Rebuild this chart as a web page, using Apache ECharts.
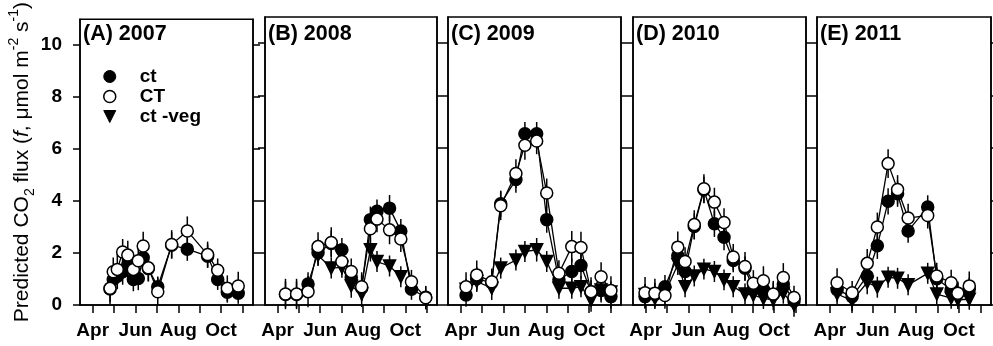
<!DOCTYPE html>
<html>
<head>
<meta charset="utf-8">
<script src="https://cdn.jsdelivr.net/npm/echarts@6/dist/echarts.min.js"></script>
<style>
  html, body { margin: 0; padding: 0; background: #fff; }
  #chart { width: 993px; height: 346px; }
</style>
</head>
<body>
<div id="chart"></div>
<script>
// Month axis: values are decimal months (4 = 1 April, 4.5 = mid April ...)
const tickMonths = [4, 5, 6, 7, 8, 9, 10, 11];
const labelMonths = [4, 6, 8, 10];
const monthNames = { 4: 'Apr', 6: 'Jun', 8: 'Aug', 10: 'Oct' };
const yTicks = [0, 2, 4, 6, 8, 10];

const panelTitles = ['(A) 2007', '(B) 2008', '(C) 2009', '(D) 2010', '(E) 2011'];
const seriesNames = ['ct', 'CT', 'ct -veg'];

// 2007
const dates2007 = [4.81, 4.96, 5.15, 5.40, 5.64, 5.90, 6.13, 6.36, 6.60, 7.04, 7.69, 8.42, 9.37, 9.84, 10.29, 10.80];
const ct2007    = [0.62, 0.98, 1.11, 1.28, 1.55, 0.98, 1.02, 1.83, 1.40, 0.70, 2.30, 2.15, 1.88, 0.98, 0.49, 0.45];
const ct2007Err = [0.50, 0.45, 0.50, 0.50, 0.50, 0.45, 0.45, 0.50, 0.50, 0.40, 0.50, 0.45, 0.45, 0.40, 0.40, 0.40];
const CT2007    = [0.64, 1.28, 1.37, 2.04, 1.92, 1.37, 1.70, 2.27, 1.43, 0.51, 2.33, 2.85, 1.94, 1.34, 0.64, 0.73];
const CT2007Err = [0.62, 0.55, 0.55, 0.50, 0.55, 0.45, 0.50, 0.55, 0.50, 0.55, 0.55, 0.56, 0.50, 0.45, 0.50, 0.55];

// 2008
const dates2008 = [4.37, 4.89, 5.43, 5.90, 6.52, 7.02, 7.46, 7.95, 8.36, 8.67, 9.26, 9.79, 10.29, 10.96];
const ct2008    = [0.40, 0.40, 0.80, 2.00, 2.35, 2.11, 1.05, 0.65, 3.26, 3.58, 3.70, 2.83, 0.60, 0.30];
const ct2008Err = [0.50, 0.50, 0.45, 0.50, 0.50, 0.45, 0.45, 0.50, 0.50, 0.45, 0.50, 0.45, 0.40, 0.40];
const CT2008    = [0.42, 0.42, 0.51, 2.23, 2.39, 1.66, 1.28, 0.70, 2.91, 3.28, 2.87, 2.52, 0.89, 0.28];
const CT2008Err = [0.58, 0.58, 0.60, 0.55, 0.58, 0.50, 0.50, 0.55, 0.55, 0.50, 0.55, 0.50, 0.45, 0.45];
const veg2008    = [null, null, null, 1.90, 1.41, 1.44, 0.73, 0.42, 2.11, 1.66, 1.49, 1.08, null, null];
const veg2008Err = [null, null, null, 0.40, 0.40, 0.40, 0.45, 0.50, 0.45, 0.40, 0.40, 0.40, null, null];

// 2009
const dates2009 = [4.25, 4.75, 5.45, 5.87, 6.58, 7.00, 7.55, 8.02, 8.59, 9.19, 9.62, 10.09, 10.56, 11.02];
const ct2009    = [0.38, 1.00, 0.85, 3.87, 4.79, 6.54, 6.54, 3.26, 0.96, 1.28, 1.51, 0.50, 0.55, 0.32];
const ct2009Err = [0.45, 0.45, 0.45, 0.50, 0.50, 0.45, 0.45, 0.50, 0.45, 0.50, 0.50, 0.45, 0.45, 0.45];
const CT2009    = [0.70, 1.15, 0.89, 3.79, 5.02, 6.10, 6.26, 4.28, 1.21, 2.23, 2.20, 0.51, 1.08, 0.55];
const CT2009Err = [0.55, 0.55, 0.50, 0.55, 0.55, 0.55, 0.50, 0.55, 0.50, 0.60, 0.60, 0.55, 0.55, 0.55];
const veg2009    = [0.60, 0.90, 0.64, 1.41, 1.72, 2.04, 2.11, 1.66, 0.64, 0.64, 0.70, 0.19, 0.57, 0.50];
const veg2009Err = [0.40, 0.40, 0.45, 0.40, 0.40, 0.40, 0.45, 0.40, 0.40, 0.40, 0.40, 0.45, 0.40, 0.40];

// 2010
const dates2010 = [3.97, 4.43, 4.90, 5.50, 5.84, 6.27, 6.72, 7.21, 7.66, 8.09, 8.64, 9.03, 9.50, 9.96, 10.43, 10.93];
const ct2010    = [0.32, 0.40, 0.70, 1.88, 1.28, 3.00, 4.40, 3.10, 2.59, 1.70, 1.40, 0.60, 0.60, 0.40, 0.80, 0.15];
const ct2010Err = [0.45, 0.45, 0.45, 0.50, 0.45, 0.50, 0.50, 0.50, 0.50, 0.45, 0.45, 0.45, 0.45, 0.45, 0.45, 0.40];
const CT2010    = [0.47, 0.45, 0.36, 2.21, 1.66, 3.07, 4.44, 3.93, 3.15, 1.83, 1.47, 0.83, 0.93, 0.42, 1.05, 0.29];
const CT2010Err = [0.60, 0.55, 0.50, 0.60, 0.55, 0.55, 0.55, 0.55, 0.55, 0.50, 0.55, 0.50, 0.55, 0.50, 0.55, 0.45];
const veg2010    = [0.40, 0.25, 0.45, 1.55, 0.70, 1.11, 1.37, 1.28, 0.96, 0.70, 0.42, 0.38, 0.25, 0.20, 0.45, 0.00];
const veg2010Err = [0.40, 0.40, 0.40, 0.40, 0.40, 0.40, 0.40, 0.40, 0.40, 0.40, 0.40, 0.40, 0.40, 0.40, 0.40, 0.45];

// 2011
const dates2011 = [4.34, 5.04, 5.74, 6.21, 6.71, 7.15, 7.64, 8.55, 8.97, 9.64, 9.95, 10.48];
const ct2011    = [0.58, 0.32, 1.11, 2.26, 3.96, 4.25, 2.83, 3.74, 1.00, 0.58, 0.45, 0.60];
const ct2011Err = [0.45, 0.40, 0.45, 0.50, 0.50, 0.50, 0.45, 0.45, 0.45, 0.45, 0.40, 0.45];
const CT2011    = [0.85, 0.47, 1.59, 2.98, 5.40, 4.41, 3.32, 3.42, 1.11, 0.85, 0.45, 0.73];
const CT2011Err = [0.55, 0.45, 0.55, 0.55, 0.55, 0.55, 0.55, 0.50, 0.50, 0.50, 0.45, 0.55];
const veg2011    = [0.42, 0.17, 0.86, 0.68, 1.06, 1.02, 0.77, 1.21, 0.42, 0.26, 0.20, 0.22];
const veg2011Err = [0.40, 0.40, 0.45, 0.40, 0.40, 0.40, 0.40, 0.40, 0.40, 0.40, 0.35, 0.40];

const panelDates = [dates2007, dates2008, dates2009, dates2010, dates2011];
const panelCt  = [[ct2007, ct2007Err], [ct2008, ct2008Err], [ct2009, ct2009Err], [ct2010, ct2010Err], [ct2011, ct2011Err]];
const panelCT  = [[CT2007, CT2007Err], [CT2008, CT2008Err], [CT2009, CT2009Err], [CT2010, CT2010Err], [CT2011, CT2011Err]];
const panelVeg = [null, [veg2008, veg2008Err], [veg2009, veg2009Err], [veg2010, veg2010Err], [veg2011, veg2011Err]];

// Layout of the five panels
const gridLeft  = [80, 265, 448, 633, 817];
const gridWidth = [173, 172, 173, 173, 174];
const gridTop = 17, gridHeight = 288;
const xMin = 3.407, xMax = 11.49;
const FONT = "'Liberation Sans', Arial, sans-serif";

const styles = {
  'ct':      { symbol: 'circle',   size: 12, rotate: 0,   fill: '#000', z: 4 },
  'CT':      { symbol: 'circle',   size: 12, rotate: 0,   fill: '#fff', z: 5 },
  'ct -veg': { symbol: 'triangle', size: 12, rotate: 180, fill: '#000', z: 3 }
};

function points(dates, vals) {
  const out = [];
  dates.forEach((d, i) => { if (vals[i] != null) out.push([d, vals[i]]); });
  return out;
}
function bars(dates, vals, errs) {
  const out = [];
  dates.forEach((d, i) => { if (vals[i] != null) out.push([d, vals[i], errs[i]]); });
  return out;
}

function renderErrorBar(params, api) {
  const x = api.value(0), y = api.value(1), e = api.value(2);
  const lo = api.coord([x, y - e]);
  const hi = api.coord([x, y + e]);
  return {
    type: 'line',
    shape: { x1: lo[0], y1: lo[1], x2: hi[0], y2: hi[1] },
    style: { stroke: '#000', lineWidth: 1.5 }
  };
}

const grids = [], xAxes = [], yAxes = [], titles = [], series = [];

panelTitles.forEach((t, p) => {
  grids.push({
    left: gridLeft[p], top: gridTop, width: gridWidth[p], height: gridHeight,
    show: true, borderColor: '#000', borderWidth: 1.5, backgroundColor: '#fff'
  });
  titles.push({
    text: t, left: gridLeft[p] + 3, top: 23, padding: 0,
    textStyle: { fontFamily: FONT, fontWeight: 'bold', fontSize: 21.5, color: '#000' }
  });
  xAxes.push({
    type: 'value', gridIndex: p, min: xMin, max: xMax,
    axisLine: { show: true, onZero: false, lineStyle: { color: '#000', width: 1.5 } },
    axisTick: { show: true, inside: false, length: 8, customValues: tickMonths, lineStyle: { color: '#000', width: 1.5 } },
    axisLabel: {
      show: true, margin: 16, customValues: labelMonths,
      formatter: v => monthNames[Math.round(v)] || '',
      fontFamily: FONT, fontWeight: 'bold', fontSize: 19, color: '#000'
    },
    splitLine: { show: false }
  });
  const yCommon = {
    type: 'value', gridIndex: p, min: 0, max: 11,
    axisLine: { show: true, onZero: false, lineStyle: { color: '#000', width: 1.5 } },
    axisTick: { show: true, inside: false, length: 7, customValues: yTicks, lineStyle: { color: '#000', width: 1.5 } },
    splitLine: { show: false }
  };
  const yLeft = Object.assign({}, yCommon, {
    position: 'left',
    axisLabel: {
      show: p === 0, margin: 18, customValues: yTicks,
      fontFamily: FONT, fontWeight: 'bold', fontSize: 19, color: '#000'
    }
  });
  if (p === 0) {
    yLeft.name = '{n|Predicted CO}{sub|2}{n| flux (}{i|f}{n|, \u03bcmol m}{sup|-2}{n| s}{sup|-1}{n|)}';
    yLeft.nameLocation = 'middle';
    yLeft.nameRotate = 90;
    yLeft.nameGap = 39;
    yLeft.nameTextStyle = {
      fontFamily: FONT, fontSize: 21, color: '#000',
      rich: {
        n:   { fontFamily: FONT, fontSize: 21, color: '#000', lineHeight: 30, verticalAlign: 'middle' },
        i:   { fontFamily: FONT, fontSize: 21, color: '#000', fontStyle: 'italic', lineHeight: 30, verticalAlign: 'middle' },
        sub: { fontFamily: FONT, fontSize: 14, color: '#000', lineHeight: 30, verticalAlign: 'bottom' },
        sup: { fontFamily: FONT, fontSize: 14, color: '#000', lineHeight: 30, verticalAlign: 'top' }
      }
    };
  }
  const yRight = Object.assign({}, yCommon, { position: 'right', axisLabel: { show: false } });
  const yIdx = yAxes.length;
  yAxes.push(yLeft, yRight);

  const groups = [['ct -veg', panelVeg[p]], ['ct', panelCt[p]], ['CT', panelCT[p]]];
  groups.forEach(([name, pair]) => {
    if (!pair) return;
    const [vals, errs] = pair;
    const st = styles[name];
    series.push({
      type: 'custom', name: name, xAxisIndex: p, yAxisIndex: yIdx,
      data: bars(panelDates[p], vals, errs),
      encode: { x: 0, y: 1 },
      renderItem: renderErrorBar, clip: false, z: 1, silent: true
    });
    series.push({
      type: 'line', name: name, xAxisIndex: p, yAxisIndex: yIdx,
      data: points(panelDates[p], vals),
      symbol: st.symbol, symbolSize: st.size, symbolRotate: st.rotate,
      showAllSymbol: true, clip: false, z: st.z,
      lineStyle: { color: '#000', width: 1.3 },
      itemStyle: { color: st.fill, borderColor: '#000', borderWidth: 1.5 },
      emphasis: { disabled: true }
    });
  });
});

const chart = echarts.init(document.getElementById('chart'), null, { renderer: 'canvas' });
chart.setOption({
  animation: false,
  backgroundColor: '#fff',
  title: titles,
  grid: grids,
  xAxis: xAxes,
  yAxis: yAxes,
  legend: {
    left: 98, top: 62, orient: 'vertical',
    itemWidth: 50, itemHeight: 12, itemGap: 1,
    selectedMode: false,
    textStyle: { fontFamily: FONT, fontWeight: 'bold', fontSize: 19, color: '#000', lineHeight: 19 },
    data: [
      { name: seriesNames[0], icon: 'circle', itemStyle: { color: '#000', borderColor: '#000', borderWidth: 1 } },
      { name: seriesNames[1], icon: 'circle', itemStyle: { color: '#fff', borderColor: '#000', borderWidth: 1.5 } },
      { name: seriesNames[2], icon: 'path://M0,0 L10,0 L5,10 Z', itemStyle: { color: '#000', borderColor: '#000', borderWidth: 1 } }
    ]
  },
  series: series
});
</script>
</body>
</html>
